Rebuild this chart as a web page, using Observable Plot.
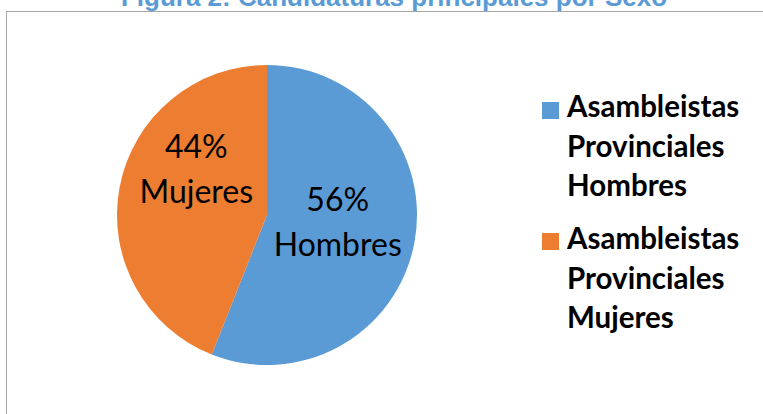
<!DOCTYPE html>
<html><head><meta charset="utf-8">
<script src="https://cdn.jsdelivr.net/npm/d3@7"></script>
<script src="https://cdn.jsdelivr.net/npm/@observablehq/plot@0.6"></script>
<style>
html,body{margin:0;padding:0;background:#fff;}
#wrap{position:relative;width:763px;height:414px;overflow:hidden;background:#fff;}
#title{position:absolute;left:0;width:788px;top:-16px;text-align:center;font:bold 26px/26px "Liberation Sans",Arial,sans-serif;color:#5b9bd5;white-space:nowrap;}
#box{position:absolute;left:6px;top:11px;width:900px;height:600px;border:1px solid #a6a6a6;box-sizing:border-box;}
#chart{position:absolute;left:0;top:0;}
#chart svg{background:transparent;}
.leg{position:absolute;left:542px;width:215px;font:bold 29.5px/39.5px Lato,"Open Sans",sans-serif;color:#000;}
.leg .sw{position:absolute;left:0;width:17px;height:17px;}
.leg .tx{position:absolute;left:25px;width:190px;}
</style></head>
<body>
<div id="wrap">
  <div id="title"></div>
  <div id="box"></div>
  <div id="chart"></div>
  <div id="legend"></div>
</div>
<script>
const titleText = "Figura 2: Candidaturas principales por Sexo";
const categories = ["Asambleistas Provinciales Hombres", "Asambleistas Provinciales Mujeres"];
const shortLabels = ["Hombres", "Mujeres"];
const values = [56, 44];
const colors = ["#5b9bd5", "#ed7d31"];

document.getElementById("title").textContent = titleText;

const data = categories.map((c, i) => ({category: c, label: shortLabels[i], value: values[i]}));
const color = Plot.scale({color: {type: "ordinal", domain: categories, range: colors}});

const cx = 267, cy = 215, R = 150;
const labelShift = [-5, -31];

const pieMark = (index, scales, values_, dimensions, context) => {
  const doc = context.document;
  const g = d3.select(doc.createElementNS("http://www.w3.org/2000/svg", "g"));
  const arcs = d3.pie().sort(null).value(d => d.value)(data);
  const arc = d3.arc().innerRadius(0).outerRadius(R);
  const labelArc = d3.arc().innerRadius(0).outerRadius(144);
  const total = d3.sum(data, d => d.value);
  g.attr("transform", `translate(${cx},${cy})`);
  g.selectAll("path").data(arcs).join("path")
    .attr("d", arc)
    .attr("fill", d => color.apply(d.data.category));
  const t = g.selectAll("text").data(arcs).join("text")
    .attr("text-anchor", "middle")
    .attr("font-family", "Lato, 'Open Sans', sans-serif")
    .attr("font-size", 32)
    .attr("fill", "#000")
    .attr("transform", (d, i) => {
      const [x, y] = labelArc.centroid(d);
      return `translate(${x},${y + labelShift[i]})`;
    });
  t.append("tspan").attr("x", 0).attr("y", -12.5)
    .text(d => Math.round(d.data.value / total * 100) + "%");
  t.append("tspan").attr("x", 0).attr("y", 32.5)
    .text(d => d.data.label);
  return g.node();
};

const plot = Plot.plot({
  width: 763,
  height: 414,
  margin: 0,
  style: {background: "transparent"},
  marks: [pieMark]
});
document.getElementById("chart").append(plot);

const legendTops = [86, 218];
const squareTops = [102, 233];
const leg = document.getElementById("legend");
categories.forEach((c, i) => {
  const item = document.createElement("div");
  item.className = "leg";
  item.style.top = legendTops[i] + "px";
  const sw = document.createElement("div");
  sw.className = "sw";
  sw.style.top = (squareTops[i] - legendTops[i]) + "px";
  sw.style.background = color.apply(c);
  const tx = document.createElement("div");
  tx.className = "tx";
  tx.textContent = c;
  item.append(sw, tx);
  leg.append(item);
});
</script>
</body></html>
